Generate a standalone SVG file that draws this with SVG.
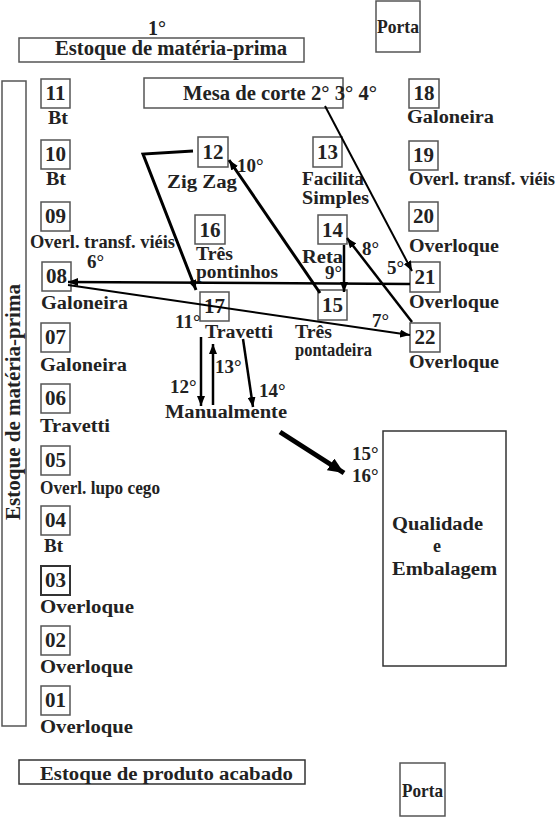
<svg xmlns="http://www.w3.org/2000/svg" width="556" height="817" viewBox="0 0 556 817" font-family="'Liberation Serif', serif" font-weight="bold">
<style>
text{font-family:'Liberation Serif',serif;font-weight:700;fill:#222}
.n{font-size:21px}
.l{font-size:18px}
.box{fill:#fff;stroke:#555;stroke-width:1.5}
.c{fill:none;stroke:#000}
</style>
<defs>
<marker id="ah" viewBox="0 0 10 8" refX="10" refY="4" markerWidth="10" markerHeight="8" markerUnits="userSpaceOnUse" orient="auto"><path d="M0,0 L10,4 L0,8 z" fill="#000"/></marker>
<marker id="ahb" viewBox="0 0 16 14" refX="16" refY="7" markerWidth="16" markerHeight="14" markerUnits="userSpaceOnUse" orient="auto"><path d="M0,0 L16,7 L0,14 z" fill="#000"/></marker>
</defs>
<rect width="556" height="817" fill="#fff"/>

<g id="estoque-mp-top">
<text class="l" x="157" y="35" text-anchor="middle" style="font-size:20px">1°</text>
<rect class="box" x="19" y="38" width="285" height="24"/>
<text class="l" x="55" y="55" textLength="232" lengthAdjust="spacingAndGlyphs" style="font-size:20px">Estoque de matéria-prima</text>
</g>
<g id="porta-top">
<rect class="box" x="376" y="1" width="44" height="51"/>
<text class="l" x="377" y="33" textLength="42" lengthAdjust="spacingAndGlyphs" style="font-size:19px">Porta</text>
</g>
<g id="estoque-mp-left">
<rect class="box" x="2" y="81" width="24" height="645"/>
<text class="l" transform="translate(20,402) rotate(-90)" text-anchor="middle" textLength="236" lengthAdjust="spacingAndGlyphs" style="font-size:20px">Estoque de matéria-prima</text>
</g>
<g id="mesa">
<rect class="box" x="144" y="78" width="199" height="30"/>
<text class="l" x="183" y="100" textLength="194" lengthAdjust="spacingAndGlyphs" style="font-size:20px">Mesa de corte 2° 3° 4°</text>
</g>

<g id="m11"><rect class="box" x="41" y="79" width="29" height="29"/><text class="n" x="55.5" y="100" text-anchor="middle">11</text><text class="l" x="48" y="124" textLength="20" lengthAdjust="spacingAndGlyphs">Bt</text></g>
<g id="m10"><rect class="box" x="41" y="140" width="29" height="29"/><text class="n" x="55.5" y="161" text-anchor="middle">10</text><text class="l" x="46" y="185" textLength="20" lengthAdjust="spacingAndGlyphs">Bt</text></g>
<g id="m09"><rect class="box" x="41" y="202" width="29" height="29"/><text class="n" x="55.5" y="223" text-anchor="middle">09</text><text class="l" x="30" y="248" textLength="145" lengthAdjust="spacingAndGlyphs">Overl. transf. viéis</text></g>
<g id="m08"><rect class="box" x="42" y="262" width="29" height="29"/><text class="n" x="56.5" y="283" text-anchor="middle">08</text><text class="l" x="41" y="309" textLength="87" lengthAdjust="spacingAndGlyphs">Galoneira</text></g>
<g id="m07"><rect class="box" x="41" y="323" width="29" height="29"/><text class="n" x="55.5" y="344" text-anchor="middle">07</text><text class="l" x="40" y="371" textLength="87" lengthAdjust="spacingAndGlyphs">Galoneira</text></g>
<g id="m06"><rect class="box" x="41" y="384" width="29" height="29"/><text class="n" x="55.5" y="405" text-anchor="middle">06</text><text class="l" x="40" y="432" textLength="70" lengthAdjust="spacingAndGlyphs">Travetti</text></g>
<g id="m05"><rect class="box" x="41" y="446" width="29" height="29"/><text class="n" x="55.5" y="467" text-anchor="middle">05</text><text class="l" x="40" y="494" textLength="120" lengthAdjust="spacingAndGlyphs">Overl. lupo cego</text></g>
<g id="m04"><rect class="box" x="41" y="506" width="29" height="29"/><text class="n" x="55.5" y="527" text-anchor="middle">04</text><text class="l" x="44" y="552" textLength="19" lengthAdjust="spacingAndGlyphs">Bt</text></g>
<g id="m03"><rect class="box" x="41" y="566" width="29" height="29" style="stroke:#333;stroke-width:2"/><text class="n" x="55.5" y="587" text-anchor="middle">03</text><text class="l" x="40" y="613" textLength="94" lengthAdjust="spacingAndGlyphs">Overloque</text></g>
<g id="m02"><rect class="box" x="41" y="626" width="29" height="29"/><text class="n" x="55.5" y="647" text-anchor="middle">02</text><text class="l" x="40" y="673" textLength="93" lengthAdjust="spacingAndGlyphs">Overloque</text></g>
<g id="m01"><rect class="box" x="41" y="686" width="29" height="29"/><text class="n" x="55.5" y="707" text-anchor="middle">01</text><text class="l" x="40" y="733" textLength="93" lengthAdjust="spacingAndGlyphs">Overloque</text></g>

<g id="m12"><rect class="box" x="198" y="137" width="30" height="30"/><text class="n" x="213" y="159" text-anchor="middle">12</text><text class="l" x="167" y="188" textLength="70" lengthAdjust="spacingAndGlyphs">Zig Zag</text></g>
<g id="m16"><rect class="box" x="195" y="215" width="30" height="29"/><text class="n" x="210" y="237" text-anchor="middle">16</text><text class="l" x="196" y="260" textLength="37" lengthAdjust="spacingAndGlyphs">Três</text><text class="l" x="196" y="278" textLength="82" lengthAdjust="spacingAndGlyphs">pontinhos</text></g>
<g id="m17"><rect class="box" x="200" y="292" width="29" height="29"/><text class="n" x="214.5" y="313" text-anchor="middle">17</text><text class="l" x="205" y="338" textLength="68" lengthAdjust="spacingAndGlyphs">Travetti</text></g>
<g id="m13"><rect class="box" x="313" y="137" width="29" height="30"/><text class="n" x="327.5" y="159" text-anchor="middle">13</text><text class="l" x="302" y="185" textLength="62" lengthAdjust="spacingAndGlyphs">Facilita</text><text class="l" x="302" y="204" textLength="67" lengthAdjust="spacingAndGlyphs">Simples</text></g>
<g id="m14"><rect class="box" x="318" y="215" width="29" height="29"/><text class="n" x="332.5" y="237" text-anchor="middle">14</text><text class="l" x="302" y="263" textLength="41" lengthAdjust="spacingAndGlyphs">Reta</text></g>
<g id="m15"><rect class="box" x="318" y="290" width="29" height="30"/><text class="n" x="332.5" y="312" text-anchor="middle">15</text><text class="l" x="295" y="338" textLength="37" lengthAdjust="spacingAndGlyphs">Três</text><text class="l" x="295" y="356" textLength="77" lengthAdjust="spacingAndGlyphs">pontadeira</text></g>

<g id="m18"><rect class="box" x="409" y="79" width="30" height="29"/><text class="n" x="424" y="100" text-anchor="middle">18</text><text class="l" x="407" y="123" textLength="87" lengthAdjust="spacingAndGlyphs">Galoneira</text></g>
<g id="m19"><rect class="box" x="409" y="141" width="29" height="29"/><text class="n" x="423.5" y="162" text-anchor="middle">19</text><text class="l" x="409" y="185" textLength="146" lengthAdjust="spacingAndGlyphs">Overl. transf. viéis</text></g>
<g id="m20"><rect class="box" x="409" y="202" width="29" height="29"/><text class="n" x="423.5" y="223" text-anchor="middle">20</text><text class="l" x="409" y="252" textLength="90" lengthAdjust="spacingAndGlyphs">Overloque</text></g>
<g id="m21"><rect class="box" x="410" y="262" width="30" height="30"/><text class="n" x="425" y="284" text-anchor="middle">21</text><text class="l" x="409" y="308" textLength="90" lengthAdjust="spacingAndGlyphs">Overloque</text></g>
<g id="m22"><rect class="box" x="410" y="323" width="30" height="29"/><text class="n" x="425" y="344" text-anchor="middle">22</text><text class="l" x="409" y="368" textLength="90" lengthAdjust="spacingAndGlyphs">Overloque</text></g>

<g id="manual"><text class="l" x="165" y="418" textLength="122" lengthAdjust="spacingAndGlyphs">Manualmente</text></g>
<g id="qualidade">
<rect class="box" x="383" y="431" width="123" height="235" style="stroke:#333"/>
<text class="l" x="392" y="530" textLength="91" lengthAdjust="spacingAndGlyphs">Qualidade</text>
<text class="l" x="437" y="552" text-anchor="middle">e</text>
<text class="l" x="392" y="575" textLength="105" lengthAdjust="spacingAndGlyphs">Embalagem</text>
</g>
<g id="estoque-pa">
<rect class="box" x="19" y="760" width="286" height="24" style="stroke:#333"/>
<text class="l" x="40" y="780" textLength="253" lengthAdjust="spacingAndGlyphs">Estoque de produto acabado</text>
</g>
<g id="porta-bottom">
<rect class="box" x="400" y="763" width="45" height="53"/>
<text class="l" x="402" y="797" textLength="41" lengthAdjust="spacingAndGlyphs" style="font-size:19px">Porta</text>
</g>

<g id="connectors">
<line class="c" x1="325" y1="106" x2="412" y2="271" stroke-width="2" marker-end="url(#ah)"/>
<polyline class="c" points="193,151 143,154 196,290" stroke-width="3" marker-end="url(#ah)"/>
<line class="c" x1="410" y1="284" x2="68" y2="282" stroke-width="2.5" marker-end="url(#ah)"/>
<line class="c" x1="68" y1="285" x2="410" y2="335" stroke-width="2" marker-end="url(#ah)"/>
<line class="c" x1="412" y1="322" x2="347" y2="238" stroke-width="2.5" marker-end="url(#ah)"/>
<line class="c" x1="344" y1="245" x2="344" y2="292" stroke-width="2.5" marker-end="url(#ah)"/>
<line class="c" x1="320" y1="293" x2="229" y2="160" stroke-width="3" marker-end="url(#ah)"/>
<line class="c" x1="201" y1="337" x2="201" y2="406" stroke-width="2.5" marker-end="url(#ah)"/>
<line class="c" x1="213" y1="405" x2="213" y2="344" stroke-width="2.5" marker-end="url(#ah)"/>
<line class="c" x1="243" y1="339" x2="253" y2="407" stroke-width="2.5" marker-end="url(#ah)"/>
<line class="c" x1="280" y1="432" x2="344" y2="473" stroke-width="5" marker-end="url(#ahb)"/>
</g>
<g id="step-labels">
<text class="l" x="387" y="274" style="font-size:19px">5°</text>
<text class="l" x="87" y="268" style="font-size:19px">6°</text>
<text class="l" x="372" y="327" style="font-size:19px">7°</text>
<text class="l" x="362" y="255" style="font-size:19px">8°</text>
<text class="l" x="325" y="279" style="font-size:19px">9°</text>
<text class="l" x="237" y="172" style="font-size:19px">10°</text>
<text class="l" x="175" y="328" style="font-size:19px">11°</text>
<text class="l" x="170" y="393" style="font-size:19px">12°</text>
<text class="l" x="215" y="373" style="font-size:19px">13°</text>
<text class="l" x="259" y="397" style="font-size:19px">14°</text>
<text class="l" x="352" y="460" style="font-size:19px">15°</text>
<text class="l" x="352" y="482" style="font-size:19px">16°</text>
</g>
</svg>
